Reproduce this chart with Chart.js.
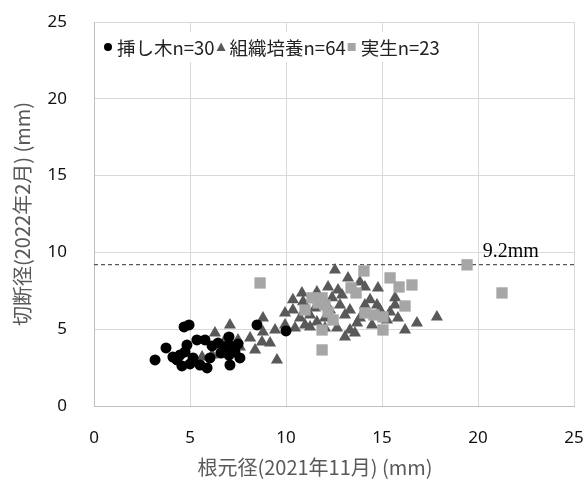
<!DOCTYPE html>
<html lang="ja">
<head>
<meta charset="UTF-8">
<title>根元径と切断径</title>
<script src="https://cdn.jsdelivr.net/npm/chart.js"></script>
<style>
    body { margin: 0; background: #fff; }
    #wrap { width: 587px; height: 484px; }
</style>
</head>
<body>
<div id="wrap"><canvas id="chart" width="587" height="484"></canvas></div>
<script>
// 挿し木 (x: 根元径, y: 切断径)
const sashikiX = [3.18, 3.75, 4.11, 4.48, 4.58, 4.69, 4.95, 4.84, 5.16, 5.36, 5.52, 5.89, 6.04, 6.15, 6.46,
                  6.61, 7.03, 7.03, 7.03, 7.08, 7.60, 7.34, 8.49, 10.0, 4.32, 5.0, 4.74, 5.78, 6.77, 7.5];
const sashikiY = [3.0, 3.78, 3.19, 3.32, 2.61, 5.15, 5.28, 3.97, 3.13, 4.30, 2.67, 2.48, 3.13, 3.91, 4.10,
                  3.45, 4.50, 3.97, 3.32, 2.67, 3.13, 3.52, 5.28, 4.89, 3.0, 2.74, 3.52, 4.30, 3.84, 4.04];
// 組織培養
const soshikiX = [7.08, 6.30, 7.50, 7.60, 5.63, 6.15, 8.80, 8.80, 9.43, 8.75, 9.17, 9.53, 12.55, 13.23, 13.85, 14.11,
                  14.79, 12.19, 12.71, 10.83, 11.61, 15.68, 15.68, 10.36, 10.89, 9.95, 10.36, 10.47, 10.99, 11.61, 12.29, 13.33,
                  14.11, 14.74, 13.07, 13.70, 13.07, 13.33, 15.26, 16.20, 16.82, 17.86, 11.25, 12.03, 12.66, 13.59, 11.77, 11.25,
                  12.03, 12.81, 13.85, 14.38, 10.73, 9.95, 8.13, 6.82, 8.39, 14.90, 15.42, 12.40, 11.51, 12.92, 14.48, 15.83];
const soshikiY = [5.28, 4.76, 4.30, 3.84, 3.19, 3.32, 5.73, 4.82, 4.95, 4.17, 4.10, 3.0, 8.86, 8.34, 8.08, 7.75,
                  7.69, 7.75, 7.56, 7.36, 7.43, 7.04, 6.58, 6.91, 6.78, 6.06, 6.25, 5.08, 5.28, 5.47, 6.25, 6.25,
                  6.58, 6.58, 5.93, 5.41, 4.50, 4.95, 5.60, 4.95, 5.41, 5.80, 5.15, 5.08, 5.08, 4.76, 6.91, 5.93,
                  5.73, 6.58, 5.73, 6.91, 5.73, 5.28, 4.43, 4.30, 3.65, 6.25, 6.12, 7.04, 6.38, 7.23, 5.28, 5.73];
// 実生
const miseiX = [8.65, 11.88, 14.06, 15.42, 15.89, 16.56, 16.20, 15.05, 19.43, 21.25, 13.39, 13.65,
                11.35, 11.88, 10.99, 12.19, 12.03, 12.45, 11.88, 14.11, 14.58, 15.05, 11.67];
const miseiY = [8.01, 3.65, 8.79, 8.34, 7.75, 7.88, 6.51, 4.95, 9.19, 7.36, 7.69, 7.36,
                7.04, 7.04, 6.25, 6.12, 6.58, 5.60, 4.95, 6.06, 5.93, 5.80, 6.71];

const seriesLabels = ['挿し木n=30', '組織培養n=64', '実生n=23'];
const seriesColors = ['#000000', '#595959', '#a6a6a6'];
const maxLine = 9.2;
const maxLabel = '9.2mm';
const axisTicks = [0, 5, 10, 15, 20, 25];
const xTitle = '根元径(2021年11月) (mm)';

const toPoints = (xs, ys) => xs.map((x, i) => ({ x: x, y: ys[i] }));

// 凡例・ラベル・X軸タイトル
const extraText = {
    id: 'extraText',
    afterDatasetsDraw(chart) {
        const ctx = chart.ctx;
        const xs = chart.scales.x, ys = chart.scales.y;
        ctx.save();
        // 9.2mm
        ctx.font = '20px "Liberation Serif", "Times New Roman", serif';
        ctx.fillStyle = '#000';
        ctx.textAlign = 'left';
        ctx.textBaseline = 'bottom';
        ctx.fillText(maxLabel, xs.getPixelForValue(20.25), ys.getPixelForValue(maxLine) - 3);

        // X軸タイトル
        ctx.font = '20px "Noto Sans CJK JP", sans-serif';
        ctx.fillStyle = '#595959';
        ctx.textAlign = 'center';
        ctx.textBaseline = 'middle';
        ctx.fillText(xTitle, 315, 467);

        // 凡例
        ctx.fillStyle = '#fff';
        ctx.fillRect(100, 32, 345, 30);
        ctx.font = '18.5px "Noto Sans CJK JP", sans-serif';
        ctx.textAlign = 'left';
        let x = 104;
        const y = 47;
        const styles = ['circle', 'triangle', 'rect'];
        seriesLabels.forEach((lab, i) => {
            ctx.fillStyle = seriesColors[i];
            ctx.beginPath();
            if (styles[i] === 'circle') {
                ctx.arc(x + 4, y, 4, 0, Math.PI * 2);
            } else if (styles[i] === 'triangle') {
                ctx.moveTo(x, y + 4); ctx.lineTo(x + 9, y + 4); ctx.lineTo(x + 4.5, y - 4.5);
            } else {
                ctx.rect(x, y - 4, 8, 8);
            }
            ctx.fill();
            ctx.fillStyle = '#222';
            ctx.fillText(lab, x + 13, y + 1);
            x += 13 + ctx.measureText(lab).width + 2;
        });
        ctx.restore();
    }
};

new Chart(document.getElementById('chart'), {
    type: 'scatter',
    data: {
        datasets: [
            {
                label: seriesLabels[0],
                data: toPoints(sashikiX, sashikiY),
                pointStyle: 'circle',
                pointRadius: 5.5,
                backgroundColor: seriesColors[0],
                borderWidth: 0,
                order: 0
            },
            {
                label: seriesLabels[1],
                data: toPoints(soshikiX, soshikiY),
                pointStyle: 'triangle',
                pointRadius: 7,
                backgroundColor: seriesColors[1],
                borderWidth: 0,
                order: 2
            },
            {
                label: seriesLabels[2],
                data: toPoints(miseiX, miseiY),
                pointStyle: 'rect',
                pointRadius: 8,
                backgroundColor: seriesColors[2],
                borderWidth: 0,
                order: 1
            },
            {
                type: 'line',
                label: 'max',
                data: [{ x: 0, y: maxLine }, { x: 25, y: maxLine }],
                borderColor: '#595959',
                borderWidth: 1.3,
                borderDash: [4, 3],
                pointRadius: 0,
                fill: false,
                order: 3
            }
        ]
    },
    options: {
        responsive: false,
        animation: false,
        layout: { padding: { top: 22, right: 13, left: 0, bottom: 0 } },
        plugins: {
            legend: { display: false },
            tooltip: { enabled: false }
        },
        scales: {
            x: {
                type: 'linear',
                min: 0, max: 25,
                afterBuildTicks: s => { s.ticks = axisTicks.map(v => ({ value: v })); },
                afterFit: s => { s.height = 78; s.paddingLeft = 0; s.paddingRight = 0; },
                grid: { color: '#d9d9d9', drawTicks: false },
                border: { color: '#bfbfbf' },
                ticks: { padding: 22, color: '#111', font: { size: 17, family: '"Noto Sans", sans-serif' } }
            },
            y: {
                type: 'linear',
                min: 0, max: 25,
                afterBuildTicks: s => { s.ticks = axisTicks.map(v => ({ value: v })); },
                afterFit: s => { s.width = 94; s.paddingTop = 0; s.paddingBottom = 0; },
                grid: { color: '#d9d9d9', drawTicks: false },
                border: { color: '#bfbfbf' },
                ticks: { padding: 27, color: '#111', font: { size: 17, family: '"Noto Sans", sans-serif' } },
                title: {
                    display: true,
                    text: '切断径(2022年2月) (mm)',
                    color: '#595959',
                    font: { size: 20, family: '"Noto Sans CJK JP", sans-serif' },
                    padding: { top: 10, bottom: 0 }
                }
            }
        }
    },
    plugins: [extraText]
});
</script>
</body>
</html>
